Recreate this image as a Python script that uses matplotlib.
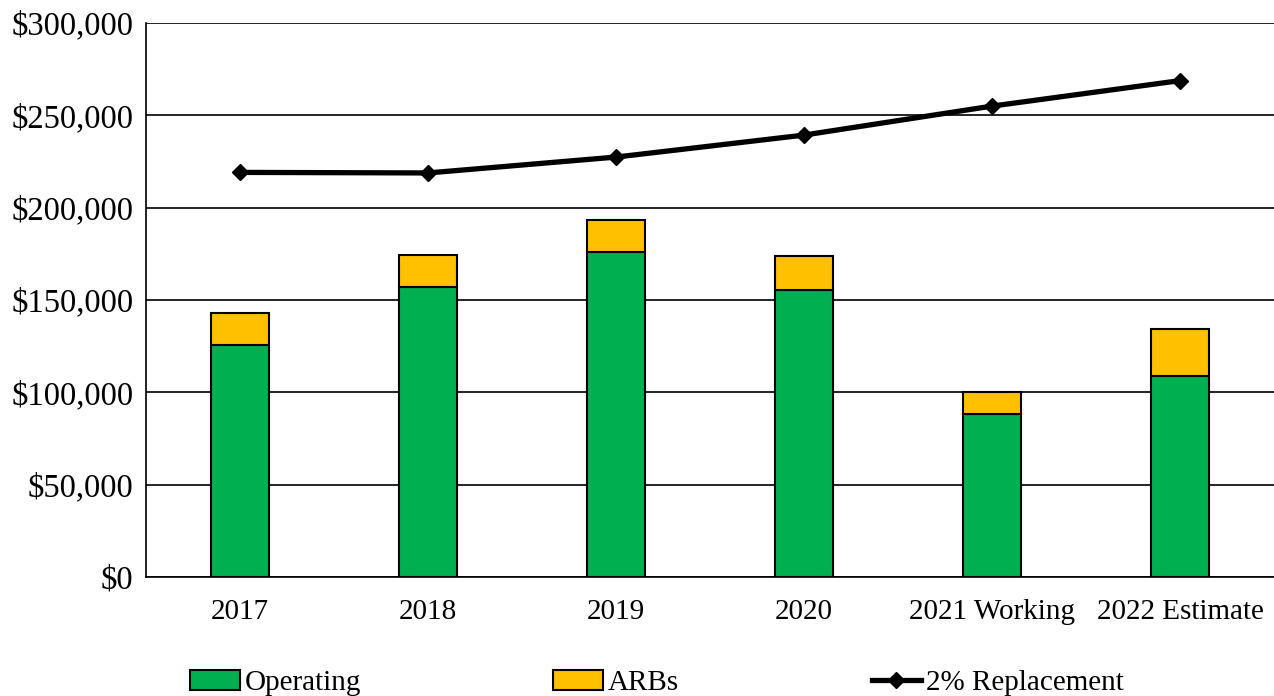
import numpy as np
import matplotlib.pyplot as plt
from matplotlib.ticker import FuncFormatter

plt.rcParams['font.family'] = ['Liberation Serif', 'DejaVu Serif']

years = ['2017', '2018', '2019', '2020', '2021 Working', '2022 Estimate']
operating = [125800, 157200, 175800, 155200, 88100, 109000]
arbs = [17300, 17300, 17500, 18600, 11900, 25100]
replacement = [219100, 218800, 227400, 239300, 255000, 268800]

fig = plt.figure(figsize=(12.74, 6.96), dpi=100)
ax = fig.add_axes([146/1274, 119/696, 1128/1274, 554/696])

x = np.arange(len(years))
w = 0.31
b1 = ax.bar(x, operating, w, color='#00B050', edgecolor='black', linewidth=1.5,
            label='Operating', zorder=3)
b2 = ax.bar(x, arbs, w, bottom=operating, color='#FFC000', edgecolor='black',
            linewidth=1.5, label='ARBs', zorder=3)
ln, = ax.plot(x, replacement, color='black', lw=3.8, marker='D', ms=8,
              label='2% Replacement', zorder=4)

ax.set_xlim(-0.5, len(years) - 0.5)
ax.set_ylim(0, 300000)
ax.set_yticks(np.arange(0, 300001, 50000))
ax.yaxis.set_major_formatter(FuncFormatter(lambda v, p: '${:,.0f}'.format(v)))
ax.set_xticks(x)
ax.set_xticklabels(years)
ax.tick_params(axis='x', length=0, pad=16, labelsize=21)
ax.tick_params(axis='y', length=0, pad=9, labelsize=23.5)
ax.grid(axis='y', color='black', lw=1.2, zorder=0)
ax.set_axisbelow(True)
for s in ['top', 'right']:
    ax.spines[s].set_visible(False)
for s in ['left', 'bottom']:
    ax.spines[s].set_linewidth(1.2)
    ax.spines[s].set_zorder(5)

fig.legend([b1, b2, ln], ['Operating', 'ARBs', '2% Replacement'],
           loc='center left', bbox_to_anchor=(190/1274, 13/696), ncol=3,
           frameon=False, fontsize=21, borderpad=0, borderaxespad=0,
           handlelength=1.7, handletextpad=0.17, columnspacing=6.6)

fig.savefig('out.png', dpi=100)
